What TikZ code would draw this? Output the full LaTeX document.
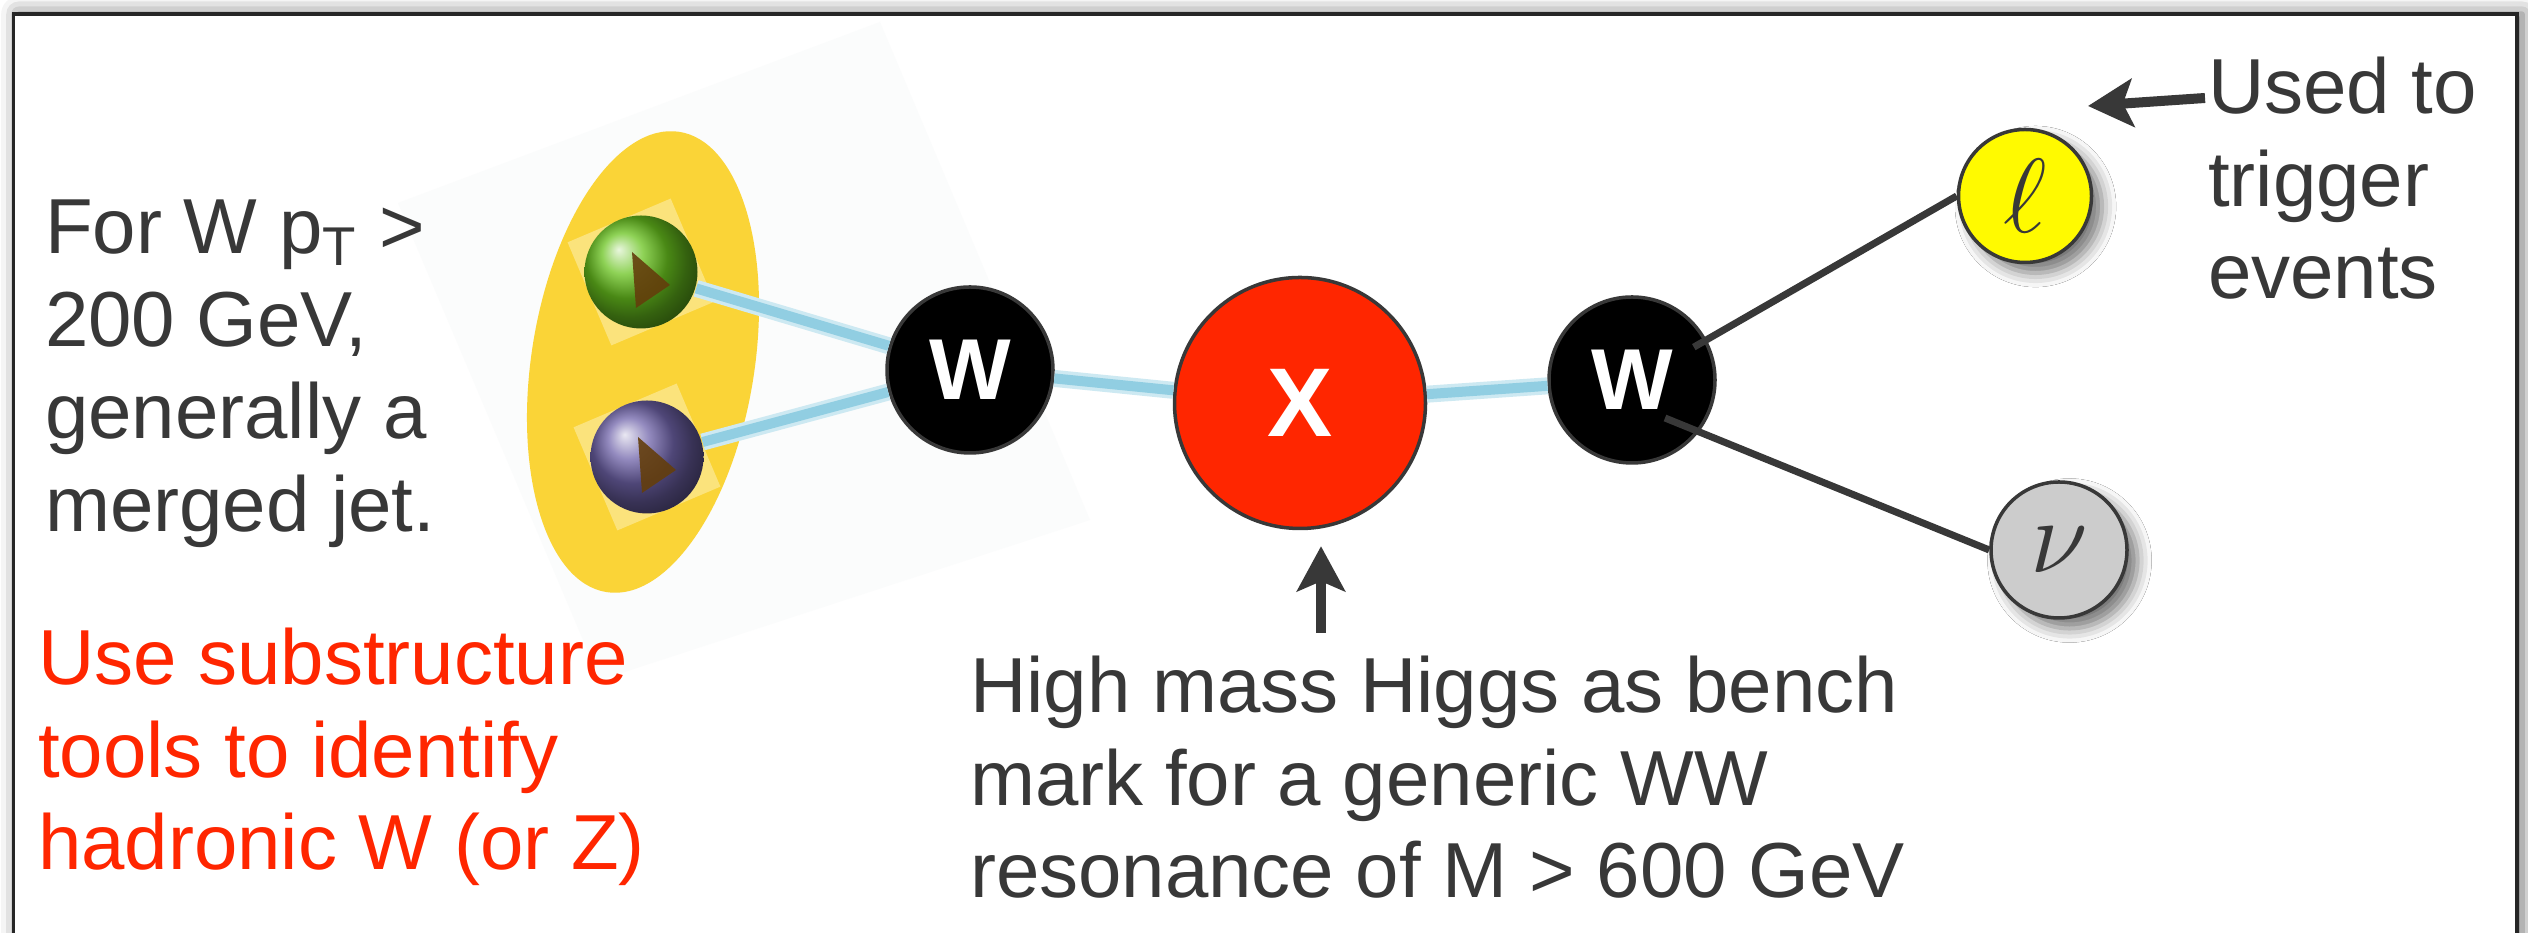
\documentclass[tikz,border=0pt]{standalone}
\usepackage{fix-cm}
\usepackage{fontspec}
\setmainfont{Liberation Sans}
\usepackage{tikz}
\usetikzlibrary{positioning,calc,shapes.geometric,shadows.blur,arrows.meta}
\definecolor{inkgray}{RGB}{56,56,56}
\definecolor{signalred}{RGB}{255,38,0}
\definecolor{jetgold}{RGB}{250,212,55}
\definecolor{glowblue}{RGB}{130,200,222}
\definecolor{quarkgreen}{RGB}{105,195,30}
\definecolor{quarkviolet}{RGB}{112,100,170}
\definecolor{playbrown}{RGB}{100,62,12}
\definecolor{lepyellow}{RGB}{255,250,0}
\definecolor{nugray}{RGB}{204,204,204}
\definecolor{backdrop}{RGB}{251,252,252}

\begin{document}
\begin{tikzpicture}[auto, on grid, semithick, text=inkgray,
	font=\fontsize{22.2}{26.3}\selectfont,
	note/.style={align=left, inner sep=0pt, anchor=north west},
	bubble/.style={circle, draw=inkgray, line width=1pt, inner sep=0pt},
	wboson/.style={bubble, fill=black, text=white, minimum size=1.66cm, font=\fontsize{24.6}{28}\selectfont\bfseries},
	resonance/.style={bubble, fill=signalred, text=white, minimum size=2.51cm, font=\fontsize{27.8}{30}\selectfont\bfseries},
	leaf/.style={bubble, font=\fontsize{30}{34}\selectfont, blur shadow={shadow xshift=3pt, shadow yshift=-3pt, shadow blur radius=4pt, shadow opacity=55}},
	quark/.style={circle, minimum size=1.13cm, inner sep=0pt, shading=ball},
	glow/.style={draw=glowblue, line width=0.1cm, opacity=0.8, preaction={draw=glowblue!40, line width=0.17cm}},
	decay/.style={draw=inkgray, line width=2pt},
	callout/.style={draw=inkgray, line width=0.1cm, -{Stealth[length=0.45cm, width=0.48cm, inset=0.1cm]}}]
	\clip (0,0) rectangle (25.28,9.33);
	% slide frame with its shadow
	\draw[line width=0.9pt, black!85, fill=white, blur shadow={shadow xshift=1.5pt, shadow yshift=0pt, shadow blur radius=5pt, shadow opacity=60}] (0.135,-0.5) rectangle (25.17,9.19);
	\fill[backdrop] (3.98,7.30) -- (8.80,9.11) -- (10.90,4.13) -- (6.00,2.53) -- cycle;

	% merged jet with its two quarks
	\node [ellipse, fill=jetgold, minimum width=2.23cm, minimum height=4.66cm, inner sep=0pt, rotate=-9] (jet) at (6.43,5.71) {};
	\node [rectangle, fill=white, opacity=0.35, minimum size=1.12cm, rotate=23] (gqbox) at (6.41,6.61) {};
	\node [rectangle, fill=white, opacity=0.35, minimum size=1.12cm, rotate=23] (pqbox) at (6.47,4.76) {};
	\node [quark, ball color=quarkgreen] (gq) at (gqbox) {};
	\node [quark, ball color=quarkviolet] (pq) at (pqbox) {};
	\foreach \q in {gq,pq}
		\fill[playbrown, opacity=0.9] ($(\q)+(-0.09,0.20)$) -- ($(\q)+(0.29,-0.13)$) -- ($(\q)+(-0.05,-0.36)$) -- cycle;

	% decay chain
	\node [wboson] (wl) at (9.70,5.63) {W};
	\node [resonance] (X) [below right=0.33cm and 3.30cm of wl] {X};
	\node [wboson] (wr) [above right=0.23cm and 3.32cm of X] {W};
	\node [leaf, fill=lepyellow, minimum size=1.33cm] (lep) [above right=1.84cm and 3.93cm of wr] {$\ell$};
	\node [leaf, fill=nugray, minimum size=1.36cm] (nu) [below right=1.70cm and 4.27cm of wr] {$\nu$};
	\path (gq) edge[glow] (wl);
	\path (pq) edge[glow] (wl);
	\path (wl) edge[glow] (X);
	\path (X) edge[glow] (wr);
	\draw[decay] ($(wr)+(28:0.7)$) -- (lep.west);
	\draw[decay] ($(wr)+(0.33,-0.38)$) -- (nu.west);

	% text
	\node [note] (ptcut) at (0.44,7.34) {For W p\textsubscript{T} >\\200 GeV,\\generally a\\merged jet.};
	\node [note, text=signalred] (tagging) at (0.37,3.06) {Use substructure\\tools to identify\\hadronic W (or Z)};
	\node [note] (bench) at (9.69,2.78) {High mass Higgs as bench\\mark for a generic WW\\resonance of M > 600 GeV};
	\node [note] (trigger) at (22.07,8.77) {Used to\\trigger\\events};
	\coordinate (benchtail) at (13.21,3.00);
	\coordinate (trigtip) at (20.88,8.27);
	\draw[callout, shorten >=0.16cm] (benchtail) -- (benchtail |- X.south);
	\draw[callout] ($(trigger.north west)+(-0.02,-0.42)$) -- (trigtip);
\end{tikzpicture}
\end{document}
